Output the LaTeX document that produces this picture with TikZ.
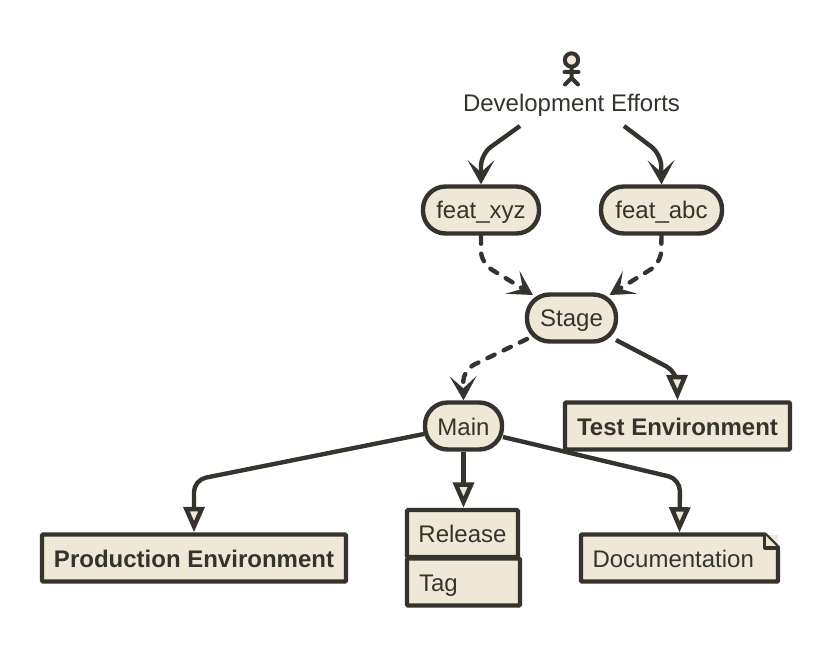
\documentclass[tikz,border=0pt]{standalone}
\usepackage{fontspec}
\setmainfont{Liberation Sans}
\usetikzlibrary{arrows.meta}
\definecolor{inkdark}{HTML}{35332E}
\definecolor{boxfill}{HTML}{EFE8D6}
\tikzset{
  base/.style = {draw=inkdark,fill=boxfill,line width=3.3pt,text=inkdark,
    inner sep=0pt,minimum height=35.25pt,text height=17.5pt,text depth=4pt,
    font=\fontsize{18}{20}\selectfont},
  pill/.style = {base,rounded corners=17pt},
  envbox/.style = {base,rounded corners=1pt,font=\fontsize{18}{20}\selectfont\bfseries},
  plainbox/.style = {base,rounded corners=1pt},
  flow/.style = {draw=inkdark,line width=3.3pt,rounded corners=9pt,
    -{Stealth[length=18pt,width=20pt,inset=9pt]}},
  dashflow/.style = {flow,line cap=round,dash pattern=on 6pt off 7.5pt},
  deliver/.style = {draw=inkdark,line width=3.3pt,rounded corners=9pt,
    -{Triangle[open,fill=boxfill,length=19pt,width=15.5pt]}}
}
\begin{document}
\begin{tikzpicture}[x=0.75pt,y=-0.75pt]
  \useasboundingbox (0,0) rectangle (831,648);

  % Draw actor and its label
  \draw [line width=3pt,draw=inkdark,fill=boxfill] (571.5,60) circle (5pt);
  \draw [line width=3pt,draw=inkdark,line cap=round] (571.5,67) -- (571.5,78)
    (564.5,72) -- (578.5,72) (565,84.5) -- (571.5,78) -- (578,84.5);
  \node [text=inkdark,text height=17.5pt,text depth=4pt,font=\fontsize{18}{20}\selectfont] (dev) at (571.5,103) {Development Efforts};

  % Draw branches
  \node [pill,minimum width=87pt] (xyz) at (481,210) {feat\_xyz};
  \node [pill,minimum width=90.75pt] (abc) at (661.5,210) {feat\_abc};
  \node [pill,minimum width=66.75pt] (stage) at (571.5,318) {Stage};
  \node [pill,minimum width=57.75pt] (main) at (463.5,426) {Main};

  % Draw environments
  \node [envbox,minimum width=168.75pt] (test) at (677.5,426) {Test Environment};
  \node [envbox,minimum width=228pt] (prod) at (194,558) {Production Environment};

  % Draw release and tag
  \node [plainbox,minimum width=83.25pt] (release) at (462.5,533.5) {Release};
  \node [plainbox,minimum width=84.75pt,text width=66.75pt,align=left] (tag) at (463.5,582) {Tag};

  % Draw documentation with folded corner
  \node [base,draw=none,outer sep=0pt,minimum width=147.75pt,text width=130.5pt,align=left] (doc) at (679.5,558) {Documentation};
  \draw [line width=3.3pt,draw=inkdark,line join=bevel] (doc.north west) -- ([xshift=-10pt]doc.north east)
    -- ([yshift=-10pt]doc.north east) -- (doc.south east) -- (doc.south west) -- cycle;
  \draw [line width=2.5pt,draw=inkdark,fill=boxfill,line join=bevel] ([xshift=-10pt]doc.north east)
    -- ([xshift=-10pt,yshift=-10pt]doc.north east) -- ([yshift=-10pt]doc.north east);

  % Free ends of the streams
  \coordinate (devleft) at (520,126);
  \coordinate (devright) at (624,126);
  \coordinate (stageleft) at (533,295);
  \coordinate (stageright) at (609.5,295);
  \coordinate (stageout) at (527,339);
  \coordinate (stagetest) at (616,340);
  \coordinate (mainleft) at (424,434);
  \coordinate (mainright) at (503,437);

  % Draw and label streams
  \draw [flow] (devleft) -- (481,154) -- (xyz.north);
  \draw [flow] (devright) -- (661,154) -- (abc.north);
  \draw [dashflow] (xyz.south) -- (481,263) -- (stageleft);
  \draw [dashflow] (abc.south) -- (661,263) -- (stageright);
  \draw [dashflow] (stageout) -- (463,370) -- (main.north);
  \draw [deliver] (stagetest) -- (677,372) -- (test.north);
  \draw [deliver] (mainleft) -- (194,480) -- (prod.north);
  \draw [deliver] (main.south) -- (release.north -| main.south);
  \draw [deliver] (mainright) -- (680,479) -- ([yshift=1.5pt]doc.north);

\end{tikzpicture}
\end{document}
